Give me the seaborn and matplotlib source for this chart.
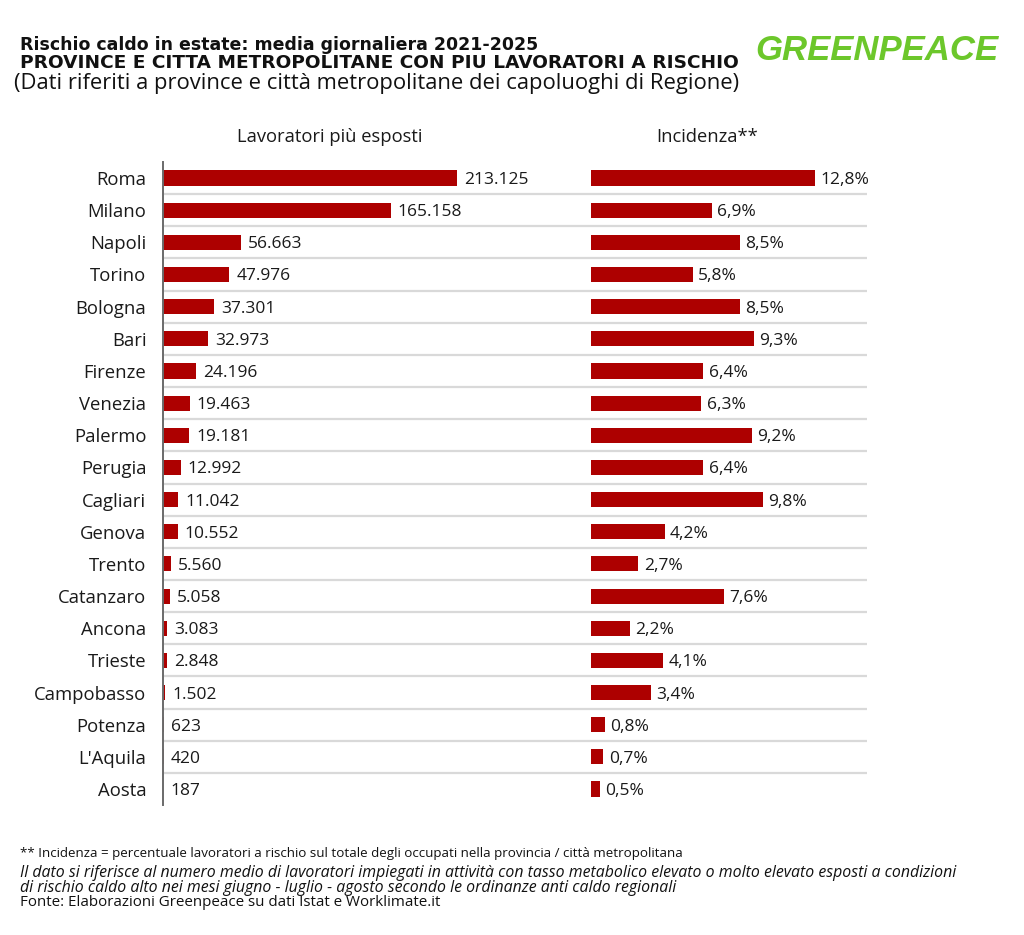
import pandas as pd
import matplotlib
matplotlib.use("Agg")
import matplotlib.pyplot as plt
import seaborn as sns

# data
cities = ["Roma", "Milano", "Napoli", "Torino", "Bologna", "Bari", "Firenze", "Venezia",
          "Palermo", "Perugia", "Cagliari", "Genova", "Trento", "Catanzaro", "Ancona",
          "Trieste", "Campobasso", "Potenza", "L'Aquila", "Aosta"]
lavoratori = [213125, 165158, 56663, 47976, 37301, 32973, 24196, 19463, 19181, 12992,
              11042, 10552, 5560, 5058, 3083, 2848, 1502, 623, 420, 187]
incidenza = [12.8, 6.9, 8.5, 5.8, 8.5, 9.3, 6.4, 6.3, 9.2, 6.4,
             9.8, 4.2, 2.7, 7.6, 2.2, 4.1, 3.4, 0.8, 0.7, 0.5]

df = pd.DataFrame({"citta": cities, "lavoratori": lavoratori, "incidenza": incidenza})

sns.set_theme(style="white")
plt.rcParams["font.family"] = ["Open Sans", "DejaVu Sans"]

RED = "#ad0000"
W, H = 1024, 935


def px(x0, y0, w, h):
    # pixel box (from top-left) -> figure fraction
    return [x0 / W, 1 - (y0 + h) / H, w / W, h / H]


fig = plt.figure(figsize=(W / 100, H / 100), dpi=100)
fig.patch.set_facecolor("white")

n = len(cities)
row = 32.16
top = 178 - row / 2
height = row * n

# background axes for row separators
ax_bg = fig.add_axes(px(163, top, 704, height))
ax_bg.set_xlim(0, 1)
ax_bg.set_ylim(n - 0.5, -0.5)
for k in range(n - 1):
    ax_bg.axhline(k + 0.5, color="#d9d9d9", lw=1.6)
ax_bg.axis("off")

# left panel: lavoratori
ax1 = fig.add_axes(px(163, top, 400, height))
ax1.patch.set_alpha(0)
sns.barplot(data=df, y="citta", x="lavoratori", color=RED, width=0.47,
            saturation=1, linewidth=0, ax=ax1)
ax1.set_xlim(0, 400 / 294 * 213125)
ax1.set_ylim(n - 0.5, -0.5)
for i, v in enumerate(lavoratori):
    ax1.annotate(f"{v:,}".replace(",", "."), (v, i), xytext=(5, 0),
                 textcoords="offset points", va="center_baseline", ha="left",
                 fontsize=12.5, color="#1a1a1a")
ax1.set_xlabel("")
ax1.set_ylabel("")
ax1.set_xticks([])
ax1.tick_params(axis="y", length=0, pad=12, labelsize=13.3, labelcolor="#1a1a1a")
for s in ["top", "right", "bottom"]:
    ax1.spines[s].set_visible(False)
ax1.spines["left"].set_color("#6a6a6a")
ax1.spines["left"].set_linewidth(1.4)

# right panel: incidenza
ax2 = fig.add_axes(px(591, top, 270, height))
ax2.patch.set_alpha(0)
sns.barplot(data=df, y="citta", x="incidenza", color=RED, width=0.47,
            saturation=1, linewidth=0, ax=ax2)
ax2.set_xlim(0, 270 / 17.5)
ax2.set_ylim(n - 0.5, -0.5)
for i, v in enumerate(incidenza):
    ax2.annotate(f"{v:.1f}%".replace(".", ","), (v, i), xytext=(4, 0),
                 textcoords="offset points", va="center_baseline", ha="left",
                 fontsize=12.5, color="#1a1a1a")
ax2.set_xlabel("")
ax2.set_ylabel("")
ax2.set_xticks([])
ax2.set_yticks([])
for s in ax2.spines.values():
    s.set_visible(False)

# column headers
fig.text(330 / W, 1 - 137 / H, "Lavoratori più esposti", ha="center", va="center",
         fontsize=13.2, color="#1a1a1a")
fig.text(707 / W, 1 - 137 / H, "Incidenza**", ha="center", va="center",
         fontsize=13.2, color="#1a1a1a")

# titles
fig.text(20 / W, 1 - 45 / H, "Rischio caldo in estate: media giornaliera 2021-2025",
         ha="left", va="center", fontsize=12.5, fontweight="bold", color="#111111",
         family=["DejaVu Sans"])
fig.text(20 / W, 1 - 63 / H, "PROVINCE E CITTA METROPOLITANE CON PIU LAVORATORI A RISCHIO",
         ha="left", va="center", fontsize=13.3, fontweight="bold", color="#111111",
         family=["DejaVu Sans"])
fig.text(14 / W, 1 - 84 / H,
         "(Dati riferiti a province e città metropolitane dei capoluoghi di Regione)",
         ha="left", va="center", fontsize=15.8, color="#111111")

# logo
fig.text(877 / W, 1 - 50 / H, "GREENPEACE", ha="center", va="center",
         fontsize=25, fontweight="bold", fontstyle="italic", color="#6cc72b",
         family=["Liberation Sans", "DejaVu Sans"])

# footer
fig.text(20 / W, 1 - 854 / H,
         "** Incidenza = percentuale lavoratori a rischio sul totale degli occupati nella provincia / città metropolitana",
         ha="left", va="center", fontsize=9.6, color="#111111")
fig.text(20 / W, 1 - 873 / H,
         "Il dato si riferisce al numero medio di lavoratori impiegati in attività con tasso metabolico elevato o molto elevato esposti a condizioni",
         ha="left", va="center", fontsize=11.4, fontstyle="italic", color="#111111")
fig.text(20 / W, 1 - 888 / H,
         "di rischio caldo alto nei mesi giugno - luglio - agosto secondo le ordinanze anti caldo regionali",
         ha="left", va="center", fontsize=11.4, fontstyle="italic", color="#111111")
fig.text(20 / W, 1 - 903 / H, "Fonte: Elaborazioni Greenpeace su dati Istat e Worklimate.it",
         ha="left", va="center", fontsize=10.9, color="#111111")

fig.savefig("out.png", dpi=100, facecolor="white")
